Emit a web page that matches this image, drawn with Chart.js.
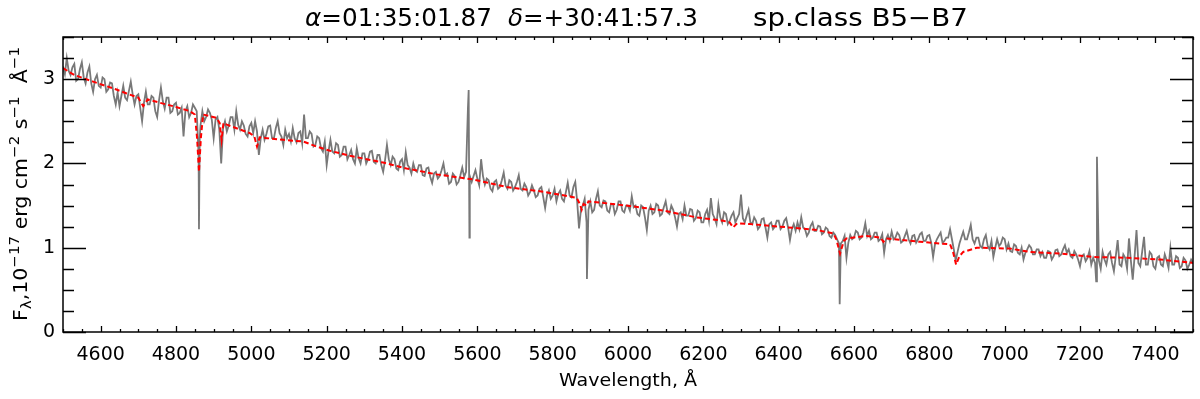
<!DOCTYPE html>
<html>
<head>
<meta charset="utf-8">
<script src="https://cdn.jsdelivr.net/npm/chart.js@4.4.1/dist/chart.umd.min.js"></script>
<style>
  body { margin: 0; background: #fff; }
  #wrap { width: 1200px; height: 399px; }
</style>
</head>
<body>
<div id="wrap"><canvas id="spec" width="1200" height="399"></canvas></div>
<script>
// observed spectrum, 5 A grid from 4500 to 7500 (one row = 100 A)
const obsStart = 4500;
const obsStep = 5;
const obsFlux = [
  3.15, 3.06, 3.25, 3.10, 3.05, 3.14, 3.18, 2.98, 3.00, 3.12, 3.20, 3.02, 2.95, 3.08, 3.15, 2.95, 2.85, 3.00, 3.05, 2.92,
  2.90, 3.02, 3.00, 2.85, 2.88, 2.96, 2.95, 2.80, 2.70, 2.84, 2.68, 2.80, 2.92, 2.78, 2.75, 2.86, 2.97, 2.82, 2.70, 2.80,
  2.82, 2.66, 2.50, 2.72, 2.85, 2.70, 2.70, 2.80, 2.78, 2.62, 2.55, 2.75, 2.90, 2.74, 2.65, 2.78, 2.78, 2.60, 2.62, 2.70,
  2.72, 2.58, 2.60, 2.66, 2.32, 2.62, 2.68, 2.55, 2.60, 2.70, 2.66, 2.62, 2.10, 2.45, 2.62, 2.50, 2.55, 2.64, 2.60, 2.52,
  2.30, 2.52, 2.55, 2.40, 2.00, 2.42, 2.50, 2.38, 2.45, 2.55, 2.55, 2.40, 2.62, 2.46, 2.40, 2.50, 2.45, 2.35, 2.32, 2.44,
  2.48, 2.36, 2.50, 2.38, 2.10, 2.30, 2.40, 2.28, 2.35, 2.44, 2.45, 2.30, 2.30, 2.42, 2.50, 2.36, 2.32, 2.22, 2.40, 2.30,
  2.35, 2.26, 2.42, 2.30, 2.25, 2.36, 2.38, 2.24, 2.58, 2.30, 2.30, 2.38, 2.35, 2.20, 2.22, 2.32, 2.30, 2.18, 2.14, 2.26,
  1.98, 2.15, 2.28, 2.14, 2.12, 2.24, 2.22, 2.08, 2.10, 2.20, 2.20, 2.05, 2.10, 2.16, 2.05, 2.00, 2.18, 2.06, 2.00, 2.12,
  2.12, 2.00, 2.05, 2.14, 2.15, 2.02, 2.00, 2.10, 2.10, 1.98, 1.90, 2.04, 2.22, 2.05, 1.98, 2.08, 2.05, 1.94, 1.92, 2.02,
  2.05, 1.92, 2.13, 1.98, 1.95, 1.88, 2.00, 1.92, 1.90, 1.98, 1.98, 1.86, 1.85, 1.94, 1.95, 1.84, 1.77, 1.88, 1.90, 1.82,
  1.85, 1.92, 2.00, 1.86, 1.88, 1.76, 1.78, 1.88, 1.85, 1.75, 1.78, 1.86, 1.95, 1.84, 1.90, 2.65, 1.85, 1.78, 1.85, 1.92,
  1.82, 1.74, 2.05, 1.85, 1.75, 1.82, 1.80, 1.70, 1.67, 1.78, 1.80, 1.70, 1.72, 1.80, 1.89, 1.74, 1.70, 1.80, 1.78, 1.68,
  1.72, 1.78, 1.86, 1.70, 1.68, 1.76, 1.72, 1.62, 1.66, 1.74, 1.68, 1.60, 1.62, 1.70, 1.72, 1.60, 1.47, 1.62, 1.68, 1.58,
  1.62, 1.70, 1.55, 1.64, 1.68, 1.58, 1.55, 1.66, 1.77, 1.62, 1.60, 1.72, 1.78, 1.55, 1.23, 1.45, 1.50, 1.58, 1.30, 1.45,
  1.55, 1.42, 1.45, 1.58, 1.67, 1.50, 1.48, 1.56, 1.55, 1.44, 1.42, 1.52, 1.52, 1.40, 1.45, 1.55, 1.55, 1.44, 1.42, 1.50,
  1.50, 1.44, 1.61, 1.48, 1.50, 1.40, 1.38, 1.50, 1.48, 1.36, 1.21, 1.44, 1.50, 1.40, 1.42, 1.52, 1.50, 1.38, 1.40, 1.48,
  1.55, 1.42, 1.40, 1.50, 1.45, 1.36, 1.25, 1.40, 1.42, 1.34, 1.50, 1.38, 1.38, 1.46, 1.45, 1.32, 1.35, 1.44, 1.42, 1.30,
  1.30, 1.40, 1.45, 1.32, 1.59, 1.40, 1.35, 1.28, 1.51, 1.36, 1.30, 1.42, 1.40, 1.28, 1.32, 1.38, 1.42, 1.30, 1.35, 1.40,
  1.63, 1.35, 1.30, 1.38, 1.45, 1.30, 1.28, 1.36, 1.32, 1.22, 1.25, 1.34, 1.35, 1.24, 1.12, 1.28, 1.30, 1.22, 1.25, 1.32,
  1.32, 1.22, 1.25, 1.32, 1.35, 1.24, 1.09, 1.22, 1.28, 1.20, 1.30, 1.22, 1.36, 1.24, 1.22, 1.14, 1.18, 1.26, 1.30, 1.20,
  1.20, 1.26, 1.25, 1.16, 1.18, 1.24, 1.22, 1.14, 1.12, 1.18, 1.15, 1.10, 1.05, 1.05, 1.08, 1.14, 0.88, 1.06, 1.15, 1.10,
  1.12, 1.20, 1.18, 1.10, 1.12, 1.18, 1.29, 1.14, 1.20, 1.10, 1.12, 1.18, 1.18, 1.08, 1.10, 1.16, 0.94, 1.10, 1.15, 1.08,
  1.19, 1.10, 1.12, 1.18, 1.15, 1.06, 1.08, 1.14, 1.20, 1.10, 1.05, 1.14, 1.15, 1.06, 1.10, 1.16, 1.18, 1.08, 1.08, 1.14,
  1.15, 1.06, 0.89, 1.04, 1.10, 1.14, 1.18, 1.06, 1.08, 1.12, 1.12, 1.22, 1.10, 0.98, 0.85, 0.95, 1.05, 1.12, 1.19, 1.10,
  1.10, 1.18, 1.27, 1.10, 1.05, 1.12, 1.12, 1.02, 1.00, 1.10, 1.15, 1.02, 0.98, 1.08, 0.89, 1.00, 1.10, 1.02, 1.05, 1.12,
  1.10, 0.98, 1.05, 0.96, 0.95, 1.04, 1.02, 0.94, 0.92, 1.00, 0.86, 0.94, 0.98, 1.03, 1.00, 0.92, 0.92, 0.98, 0.98, 0.90,
  0.95, 0.88, 0.88, 0.96, 0.95, 0.86, 0.90, 0.97, 0.98, 0.90, 0.92, 0.98, 1.03, 0.94, 0.98, 0.90, 0.88, 0.96, 0.92, 0.86,
  0.78, 0.90, 0.92, 0.84, 0.88, 0.96, 0.80, 0.88, 0.82, 2.08, 0.85, 0.75, 0.95, 0.86, 0.80, 0.92, 0.95, 0.82, 0.72, 0.90,
  1.09, 0.80, 0.78, 0.92, 0.88, 0.75, 1.11, 0.85, 0.62, 0.90, 1.21, 0.82, 0.78, 0.95, 1.13, 0.80, 0.80, 0.95, 0.92, 0.78,
  0.75, 0.88, 0.90, 0.80, 0.78, 0.92, 0.85, 0.76, 1.00, 0.80, 0.80, 0.90, 0.88, 0.76, 0.78, 0.88, 0.85, 0.75, 0.80, 0.86,
  0.82
];
// narrow features that fall between grid points
const lineWave = [4861, 4863, 5577, 5579, 5891, 6562, 7243];
const lineFlux = [1.22, 2.30, 2.87, 1.12, 0.63, 0.33, 0.60];

// fitted template (red dashed)
const modelWave = [4500, 4530, 4580, 4640, 4669, 4700, 4713, 4725, 4757, 4800, 4837, 4850, 4856, 4861, 4866, 4872,
  4908, 4916, 4921, 4926, 4935, 4996, 5008, 5015, 5022, 5041, 5085, 5138, 5173, 5209, 5262, 5306, 5350, 5412,
  5492, 5589, 5678, 5766, 5819, 5864, 5872, 5877, 5882, 5890, 5895, 5917, 5996, 6094, 6182, 6253, 6270, 6279,
  6290, 6324, 6403, 6501, 6545, 6553, 6563, 6573, 6580, 6633, 6670, 6678, 6686, 6775, 6855, 6863, 6871, 6880,
  6890, 6926, 7014, 7067, 7147, 7235, 7324, 7412, 7500];
const modelFlux = [3.13, 3.05, 2.97, 2.88, 2.83, 2.78, 2.68, 2.76, 2.72, 2.67, 2.62, 2.58, 2.30, 1.90, 2.30, 2.58,
  2.54, 2.48, 2.28, 2.48, 2.46, 2.36, 2.32, 2.20, 2.31, 2.30, 2.28, 2.26, 2.20, 2.15, 2.09, 2.05, 2.01, 1.94,
  1.87, 1.81, 1.72, 1.67, 1.63, 1.59, 1.52, 1.45, 1.52, 1.50, 1.55, 1.54, 1.50, 1.44, 1.36, 1.32, 1.30, 1.24,
  1.29, 1.28, 1.25, 1.21, 1.17, 1.10, 0.93, 1.08, 1.11, 1.14, 1.12, 1.07, 1.11, 1.07, 1.04, 0.95, 0.80, 0.90,
  0.95, 1.00, 0.99, 0.95, 0.93, 0.89, 0.88, 0.86, 0.82];

const xTicks = [4600, 4800, 5000, 5200, 5400, 5600, 5800, 6000, 6200, 6400, 6600, 6800, 7000, 7200, 7400];
const yTicks = [0, 1, 2, 3];

const obsPoints = obsFlux.map((f, i) => ({ x: obsStart + i * obsStep, y: f }));
lineWave.forEach((w, i) => obsPoints.push({ x: w, y: lineFlux[i] }));
obsPoints.sort((a, b) => a.x - b.x);
const modelPoints = modelWave.map((w, i) => ({ x: w, y: modelFlux[i] }));

const FONT = '"DejaVu Sans", sans-serif';

// draws [text, size, dy, style] pieces squeezed/stretched to a given width
function richText(ctx, segs, x0, y0, width) {
  let natural = 0;
  segs.forEach(([t, s, dy, st]) => {
    ctx.font = (st || '') + s + 'px ' + FONT;
    natural += ctx.measureText(t).width;
  });
  ctx.save();
  ctx.translate(x0, y0);
  ctx.scale(width / natural, 1);
  let cx = 0;
  segs.forEach(([t, s, dy, st]) => {
    ctx.font = (st || '') + s + 'px ' + FONT;
    ctx.fillText(t, cx, dy);
    cx += ctx.measureText(t).width;
  });
  ctx.restore();
}

// frame, inward ticks, title and rich axis labels
const decor = {
  id: 'decor',
  afterDatasetsDraw(chart) {
    const { ctx, chartArea: a, scales: { x, y } } = chart;
    ctx.save();
    ctx.strokeStyle = '#000';
    ctx.lineWidth = 1.5;
    ctx.strokeRect(a.left, a.top, a.right - a.left, a.bottom - a.top);
    ctx.lineWidth = 1.3;
    ctx.beginPath();
    for (let v = 4500; v <= 7500; v += 50) {
      const px = Math.round(x.getPixelForValue(v)) + 0.5;
      const len = v % 200 === 0 ? 6 : 3;
      ctx.moveTo(px, a.bottom); ctx.lineTo(px, a.bottom - len);
      ctx.moveTo(px, a.top); ctx.lineTo(px, a.top + len);
    }
    for (let v = 0; v <= 3.5; v += 0.25) {
      const py = Math.round(y.getPixelForValue(v)) + 0.5;
      const len = v % 1 === 0 ? 23 : 11;
      ctx.moveTo(a.left, py); ctx.lineTo(a.left + len, py);
      ctx.moveTo(a.right, py); ctx.lineTo(a.right - len, py);
    }
    ctx.stroke();

    ctx.fillStyle = '#000';
    ctx.textBaseline = 'alphabetic';
    ctx.textAlign = 'left';
    richText(ctx, [['α', 25, 0, 'italic '], ['=01:35:01.87', 25, 0]], 305, 26, 187);
    richText(ctx, [['δ', 25, 0, 'italic '], ['=+30:41:57.3', 25, 0]], 508, 26, 190);
    richText(ctx, [['sp.class B5−B7', 25, 0]], 753, 26, 215);

    richText(ctx, [['Wavelength, Å', 18, 0]], 559, 386, 138);

    ctx.translate(27, 321);
    ctx.rotate(-Math.PI / 2);
    const lab = [['F', 19, 0], ['λ', 14, 4], [',10', 19, 0], ['−17', 14, -8], [' erg cm', 19, 0], ['−2', 14, -8],
      [' s', 19, 0], ['−1', 14, -8], ['  Å', 19, 0], ['−1', 14, -8]];
    richText(ctx, lab, 0, 0, 274);
    ctx.restore();
  }
};

new Chart(document.getElementById('spec'), {
  type: 'line',
  data: {
    datasets: [
      {
        label: 'model',
        data: modelPoints,
        borderColor: '#ff0000',
        borderWidth: 2,
        borderDash: [5, 3],
        pointRadius: 0,
        tension: 0,
        order: 0
      },
      {
        label: 'observed',
        data: obsPoints,
        borderColor: '#787878',
        borderWidth: 1.8,
        pointRadius: 0,
        tension: 0,
        order: 1
      }
    ]
  },
  options: {
    responsive: false,
    animation: false,
    layout: { padding: { top: 37, right: 7, left: 0, bottom: 0 } },
    plugins: { legend: { display: false }, tooltip: { enabled: false }, title: { display: false } },
    scales: {
      x: {
        type: 'linear',
        min: 4500,
        max: 7500,
        grid: { display: false, drawTicks: false },
        border: { display: false },
        afterBuildTicks: s => { s.ticks = xTicks.map(v => ({ value: v })); },
        afterFit: s => { s.height = 67; },
        ticks: { padding: 12, color: '#000', font: { family: FONT, size: 19 }, maxRotation: 0, callback: v => String(v) }
      },
      y: {
        min: 0,
        max: 3.5,
        grid: { display: false, drawTicks: false },
        border: { display: false },
        afterBuildTicks: s => { s.ticks = yTicks.map(v => ({ value: v })); },
        afterFit: s => { s.width = 63; },
        ticks: { padding: 8, color: '#000', font: { family: FONT, size: 19 } }
      }
    }
  },
  plugins: [decor]
});
</script>
</body>
</html>
